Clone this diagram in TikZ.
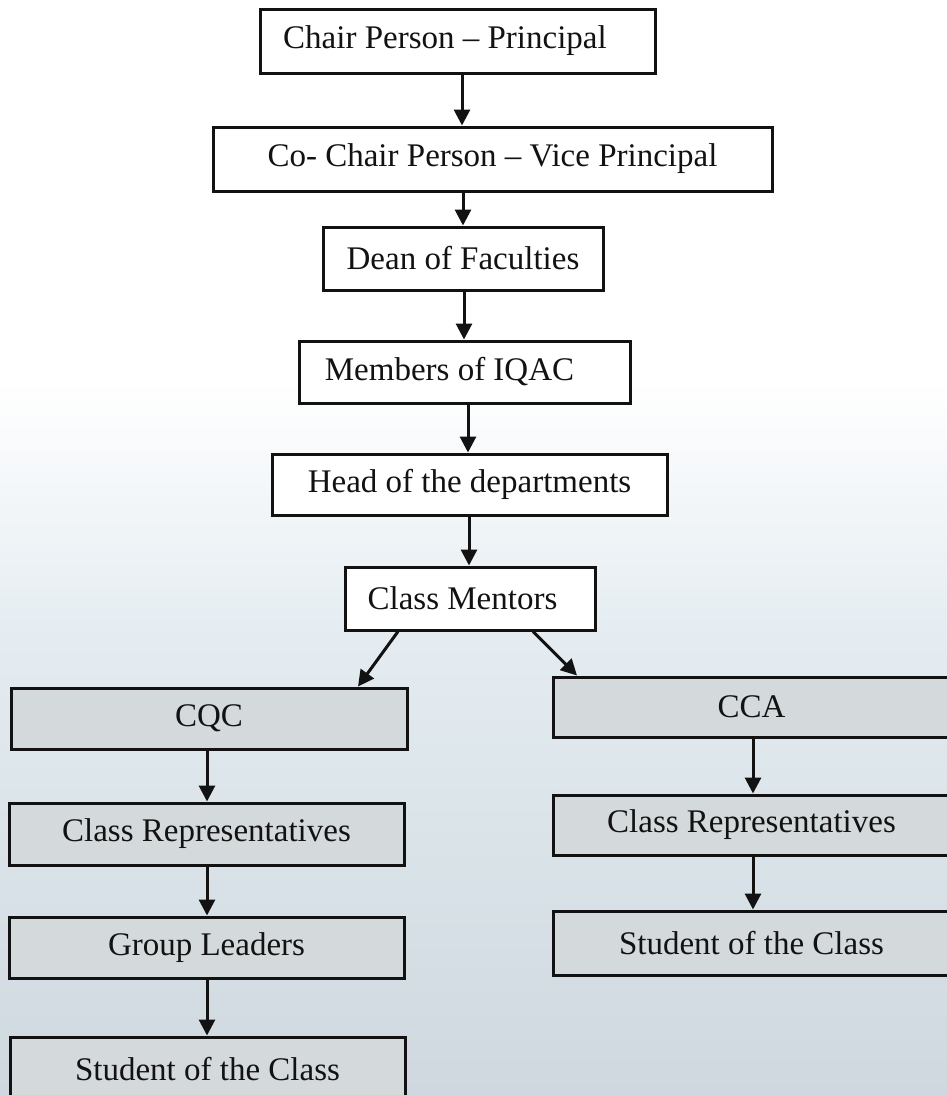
\documentclass[tikz,border=0pt]{standalone}
\usepackage{fontspec}
\setmainfont{Liberation Serif}
\usetikzlibrary{arrows.meta}
\definecolor{bgbot}{RGB}{206,216,222}
\definecolor{bgmid}{RGB}{228,236,241}
\definecolor{boxgray}{RGB}{212,217,220}
\definecolor{ink}{RGB}{18,18,18}
\tikzset{
  chartbox/.style={draw=ink, line width=3pt, inner sep=0pt, text=ink, font=\fontsize{33}{38}\selectfont},
  upperbox/.style={chartbox, fill=white},
  lowerbox/.style={chartbox, fill=boxgray},
  arr/.style={draw=ink, line width=3pt, -{Triangle[width=16pt,length=16pt]}},
}
\begin{document}
\begin{tikzpicture}[x=1pt,y=-1pt]
\useasboundingbox (0,0) rectangle (947,1095);
\clip (0,0) rectangle (947,1095);
\fill[white] (0,0) rectangle (947,1095);
\shade[top color=white, bottom color=bgmid] (0,380) rectangle (947,640);
\shade[top color=bgmid, bottom color=bgbot] (0,640) rectangle (947,1095);

% central chain
\node[upperbox, minimum width=395pt, minimum height=64pt] (chair) at (457.5,41) {Chair Person -- Principal\hspace*{25pt}};
\node[upperbox, minimum width=559pt, minimum height=64pt] (cochair) at (492.5,159) {Co- Chair Person -- Vice Principal};
\node[upperbox, minimum width=280pt, minimum height=63pt] (dean) at (463,258.5) {Dean of Faculties};
\node[upperbox, minimum width=331pt, minimum height=62pt] (iqac) at (464.5,372) {Members of IQAC\hspace*{30pt}};
\node[upperbox, minimum width=395pt, minimum height=61pt] (hod) at (469.5,484.5) {Head of the departments};
\node[upperbox, minimum width=250pt, minimum height=63pt] (mentors) at (470,598.5) {Class Mentors\hspace*{15pt}};

% left branch
\node[lowerbox, minimum width=396pt, minimum height=61pt] (cqc) at (209,718.5) {CQC};
\node[lowerbox, minimum width=395pt, minimum height=62pt] (repL) at (206.5,834) {Class Representatives};
\node[lowerbox, minimum width=395pt, minimum height=61pt] (groupL) at (206.5,947.5) {Group Leaders};
\node[lowerbox, minimum width=395pt, minimum height=64pt] (stuL) at (207.5,1069) {Student of the Class};

% right branch
\node[lowerbox, minimum width=397pt, minimum height=60pt] (cca) at (751.5,707) {CCA};
\node[lowerbox, minimum width=397pt, minimum height=60pt] (repR) at (751.5,825) {Class Representatives};
\node[lowerbox, minimum width=397pt, minimum height=64pt] (stuR) at (751.5,943) {Student of the Class};

% arrow columns
\coordinate (c1) at (462,0);
\coordinate (c2) at (463,0);
\coordinate (c3) at (464,0);
\coordinate (c4) at (468,0);
\coordinate (c5) at (469,0);
\coordinate (cl) at (207,0);
\coordinate (cr) at (753,0);
\coordinate (d1) at (398,0);
\coordinate (d2) at (358,0);
\coordinate (d3) at (533,0);
\coordinate (d4) at (577,0);

\draw[arr] (chair.south -| c1) -- (cochair.north -| c1);
\draw[arr] (cochair.south -| c2) -- (dean.north -| c2);
\draw[arr] (dean.south -| c3) -- (iqac.north -| c3);
\draw[arr] (iqac.south -| c4) -- (hod.north -| c4);
\draw[arr] (hod.south -| c5) -- (mentors.north -| c5);
\draw[arr] (mentors.south -| d1) -- (cqc.north -| d2);
\draw[arr] (mentors.south -| d3) -- (cca.north -| d4);
\draw[arr] (cqc.south -| cl) -- (repL.north -| cl);
\draw[arr] (repL.south -| cl) -- (groupL.north -| cl);
\draw[arr] (groupL.south -| cl) -- (stuL.north -| cl);
\draw[arr] (cca.south -| cr) -- (repR.north -| cr);
\draw[arr] (repR.south -| cr) -- (stuR.north -| cr);
\end{tikzpicture}
\end{document}
